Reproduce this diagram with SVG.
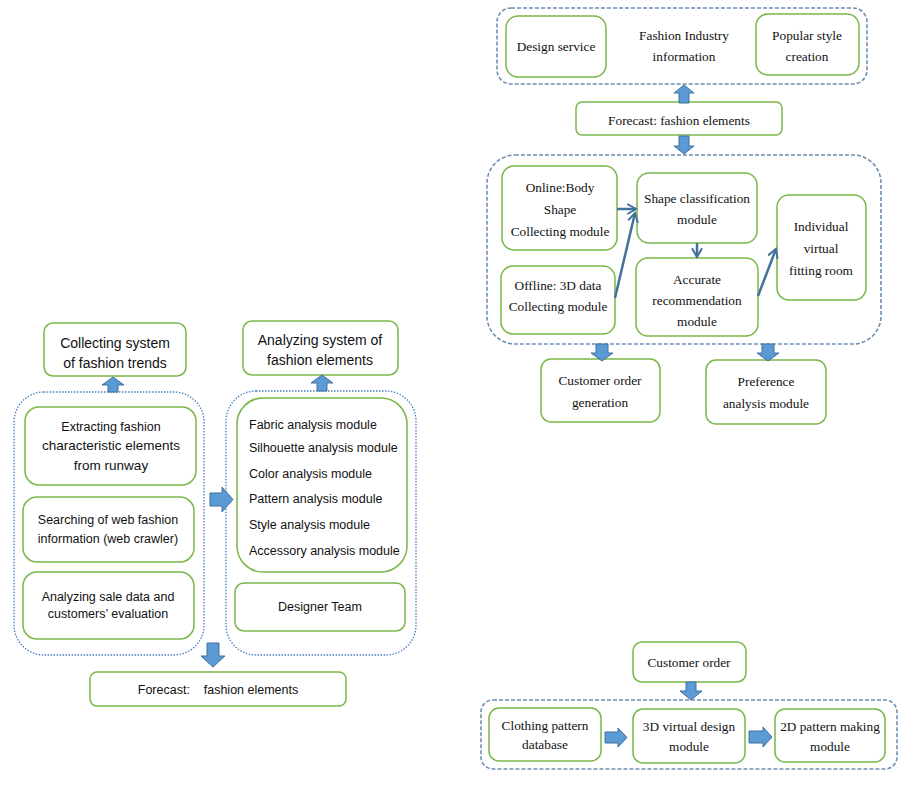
<svg xmlns="http://www.w3.org/2000/svg" width="908" height="787" viewBox="0 0 908 787">
<defs>
<style>
.bg{fill:#ffffff}
.g{fill:#ffffff;stroke:#7ab648;stroke-width:1.5}
.dot{fill:none;stroke:#4a7ec0;stroke-width:1.3;stroke-dasharray:1.5 1.5}
.dash{fill:none;stroke:#6f8fb0;stroke-width:1.6;stroke-dasharray:4 2}
.ba{fill:#5b9bd5;stroke:#41719c;stroke-width:1}
.ln{fill:none;stroke:#41719c;stroke-width:2.5}
.s{font-family:"Liberation Sans",Arial,sans-serif;font-size:12.5px;fill:#111;text-anchor:middle}
.sl{font-family:"Liberation Sans",Arial,sans-serif;font-size:12.5px;fill:#111}
.sb{font-family:"Liberation Sans",Arial,sans-serif;font-size:14px;fill:#111;text-anchor:middle}
.t{font-family:"Liberation Serif","Times New Roman",serif;font-size:13.3px;fill:#111;text-anchor:middle}
</style>
<marker id="ah" viewBox="0 0 10 10" refX="8" refY="5" markerWidth="5" markerHeight="5" orient="auto" markerUnits="strokeWidth">
<path d="M1,1 L8,5 L1,9" fill="none" stroke="#41719c" stroke-width="1.6"/>
</marker>
</defs>
<rect class="bg" x="0" y="0" width="908" height="787"/>

<!-- containers -->
<g id="containers">
<rect class="dot" x="14" y="392" width="190" height="263" rx="30"/>
<rect class="dot" x="226" y="391" width="190" height="264" rx="30"/>
<rect class="dash" x="497" y="8" width="370" height="76" rx="14"/>
<rect class="dash" x="487" y="155" width="394" height="189" rx="28"/>
<rect class="dash" x="481" y="700" width="416" height="69" rx="12"/>
</g>

<!-- left side nodes -->
<g id="collecting-system">
<rect class="g" x="44" y="323" width="142" height="53" rx="9"/>
<text class="sb" x="115" y="348">Collecting system</text>
<text class="sb" x="115" y="368">of fashion trends</text>
</g>
<g id="extracting">
<rect class="g" x="25" y="407" width="171" height="78" rx="14"/>
<text class="s" x="111" y="431">Extracting fashion</text>
<text class="s" x="111" y="450" style="font-size:13.5px">characteristic elements</text>
<text class="s" x="111" y="470" style="font-size:13.5px">from runway</text>
</g>
<g id="searching">
<rect class="g" x="23" y="497" width="171" height="65" rx="14"/>
<text class="s" x="108" y="524">Searching of web fashion</text>
<text class="s" x="108" y="543">information (web crawler)</text>
</g>
<g id="analyzing-sale">
<rect class="g" x="23" y="572" width="171" height="67" rx="14"/>
<text class="s" x="108" y="601">Analyzing sale data and</text>
<text class="s" x="108" y="618">customers’ evaluation</text>
</g>
<g id="analyzing-system">
<rect class="g" x="243" y="321" width="155" height="54" rx="9"/>
<text class="sb" x="320" y="345">Analyzing system of</text>
<text class="sb" x="320" y="365">fashion elements</text>
</g>
<g id="modules">
<rect class="g" x="237" y="398" width="170" height="174" rx="26"/>
<text class="sl" x="249" y="429">Fabric analysis module</text>
<text class="sl" x="249" y="452">Silhouette analysis module</text>
<text class="sl" x="249" y="478">Color analysis module</text>
<text class="sl" x="249" y="503">Pattern analysis module</text>
<text class="sl" x="249" y="529">Style analysis module</text>
<text class="sl" x="249" y="555">Accessory analysis module</text>
</g>
<g id="designer-team">
<rect class="g" x="235" y="583" width="170" height="48" rx="9"/>
<text class="s" x="320" y="611">Designer Team</text>
</g>
<g id="forecast-left">
<rect class="g" x="90" y="672" width="256" height="34" rx="7"/>
<text class="s" x="218" y="694" xml:space="preserve">Forecast:    fashion elements</text>
</g>

<!-- right top -->
<g id="design-service">
<rect class="g" x="506" y="16" width="100" height="61" rx="12"/>
<text class="t" x="556" y="51">Design service</text>
</g>
<g id="fashion-industry">
<text class="t" x="684" y="40">Fashion Industry</text>
<text class="t" x="684" y="61">information</text>
</g>
<g id="popular-style">
<rect class="g" x="756" y="14" width="103" height="61" rx="12"/>
<text class="t" x="807" y="40">Popular style</text>
<text class="t" x="807" y="61">creation</text>
</g>
<g id="forecast-right">
<rect class="g" x="576" y="102" width="206" height="33" rx="6"/>
<text class="t" x="679" y="125">Forecast: fashion elements</text>
</g>

<!-- middle -->
<g id="online">
<rect class="g" x="502" y="166" width="115" height="84" rx="12"/>
<text class="t" x="560" y="192">Online:Body</text>
<text class="t" x="560" y="214">Shape</text>
<text class="t" x="560" y="236">Collecting module</text>
</g>
<g id="offline">
<rect class="g" x="501" y="266" width="114" height="68" rx="12"/>
<text class="t" x="558" y="290">Offline: 3D data</text>
<text class="t" x="558" y="311">Collecting module</text>
</g>
<g id="shape-classification">
<rect class="g" x="637" y="173" width="120" height="70" rx="12"/>
<text class="t" x="697" y="203">Shape classification</text>
<text class="t" x="697" y="224">module</text>
</g>
<g id="accurate">
<rect class="g" x="636" y="258" width="122" height="78" rx="12"/>
<text class="t" x="697" y="284">Accurate</text>
<text class="t" x="697" y="305">recommendation</text>
<text class="t" x="697" y="326">module</text>
</g>
<g id="individual">
<rect class="g" x="777" y="195" width="89" height="105" rx="12"/>
<text class="t" x="821" y="231">Individual</text>
<text class="t" x="821" y="253">virtual</text>
<text class="t" x="821" y="275">fitting room</text>
</g>
<g id="customer-order-generation">
<rect class="g" x="541" y="359" width="119" height="63" rx="10"/>
<text class="t" x="600" y="385">Customer order</text>
<text class="t" x="600" y="407">generation</text>
</g>
<g id="preference">
<rect class="g" x="706" y="360" width="120" height="64" rx="10"/>
<text class="t" x="766" y="386">Preference</text>
<text class="t" x="766" y="408">analysis module</text>
</g>

<!-- bottom -->
<g id="customer-order">
<rect class="g" x="633" y="642" width="113" height="40" rx="9"/>
<text class="t" x="689" y="667">Customer order</text>
</g>
<g id="clothing-pattern">
<rect class="g" x="489" y="708" width="112" height="53" rx="10"/>
<text class="t" x="545" y="730">Clothing pattern</text>
<text class="t" x="545" y="749">database</text>
</g>
<g id="virtual-design">
<rect class="g" x="633" y="709" width="112" height="54" rx="10"/>
<text class="t" x="689" y="731">3D virtual design</text>
<text class="t" x="689" y="751">module</text>
</g>
<g id="pattern-making">
<rect class="g" x="775" y="709" width="110" height="53" rx="10"/>
<text class="t" x="830" y="731">2D pattern making</text>
<text class="t" x="830" y="751">module</text>
</g>

<!-- connectors -->
<g id="connectors">
<path class="ba" d="M113,377 L124,385 L118,385 L118,392 L108,392 L108,385 L102,385 Z"/>
<path class="ba" d="M322,375 L333,383 L327,383 L327,391 L317,391 L317,383 L311,383 Z"/>
<path class="ba" d="M233,499.5 L222,487 L222,493 L210,493 L210,506 L222,506 L222,512 Z"/>
<path class="ba" d="M213,667 L225,656 L219,656 L219,643 L207,643 L207,656 L201,656 Z"/>
<path class="ba" d="M684,85 L694,93 L689,93 L689,103 L679,103 L679,93 L674,93 Z"/>
<path class="ba" d="M684,154 L694,146 L689,146 L689,136 L679,136 L679,146 L674,146 Z"/>
<path class="ba" d="M602,361 L613,353 L608,353 L608,344 L596,344 L596,353 L591,353 Z"/>
<path class="ba" d="M768,361 L779,353 L774,353 L774,344 L762,344 L762,353 L757,353 Z"/>
<path class="ba" d="M691,700 L702,691 L696,691 L696,682 L686,682 L686,691 L680,691 Z"/>
<path class="ba" d="M627,737.5 L618,728 L618,732 L605,732 L605,743 L618,743 L618,747 Z"/>
<path class="ba" d="M772,737 L763,727 L763,731 L749,731 L749,743 L763,743 L763,747 Z"/>
<line class="ln" x1="617" y1="209" x2="636" y2="209" marker-end="url(#ah)"/>
<line class="ln" x1="615" y1="298" x2="635" y2="213" marker-end="url(#ah)"/>
<line class="ln" x1="697" y1="243" x2="697" y2="257" marker-end="url(#ah)"/>
<line class="ln" x1="758" y1="296" x2="776" y2="249" marker-end="url(#ah)"/>
</g>
</svg>
